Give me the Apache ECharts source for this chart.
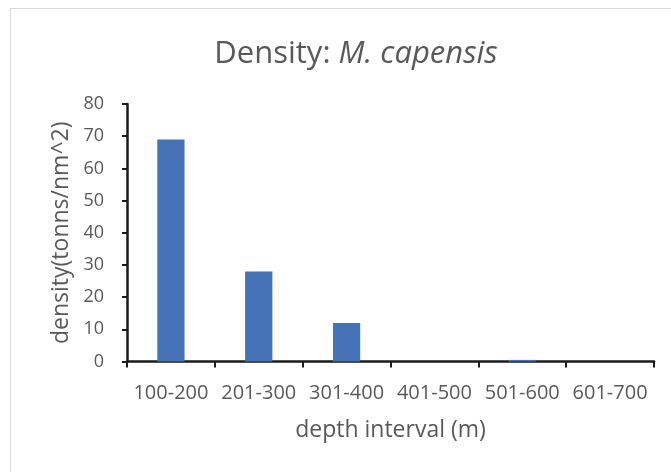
<!DOCTYPE html>
<html>
<head>
<meta charset="utf-8">
<script src="https://cdn.jsdelivr.net/npm/echarts@6/dist/echarts.min.js"></script>
<style>
  html, body { margin: 0; padding: 0; background: #fff; }
  #frame { position: absolute; left: 10px; top: 8px; width: 700px; height: 500px; border: 1px solid #d9d9d9; box-sizing: border-box; }
  #chart { width: 671px; height: 472px; position: absolute; left: 0; top: 0; }
</style>
</head>
<body>
<div id="frame"></div>
<div id="chart"></div>
<script>
// Depth intervals (m) and fish density (tonnes per square nautical mile)
const depthIntervals = ['100-200', '201-300', '301-400', '401-500', '501-600', '601-700'];
const densityValues = [69, 28, 12, 0, 0.5, 0];
const yTicks = [0, 10, 20, 30, 40, 50, 60, 70, 80];

const chart = echarts.init(document.getElementById('chart'), null, { renderer: 'canvas' });
const textGray = '#595959';
const axisBlack = '#1b1b1b';
const fontFam = '"Open Sans", Lato, sans-serif';

chart.setOption({
  animation: false,
  title: {
    text: '{a|Density: }{b|M. capensis}',
    left: 351,
    textAlign: 'center',
    top: 34,
    textStyle: {
      fontWeight: 'normal',
      rich: {
        a: { fontSize: 31, color: textGray, fontFamily: fontFam, fontWeight: 'normal' },
        b: { fontSize: 31, color: textGray, fontFamily: fontFam, fontWeight: 'normal', fontStyle: 'italic' }
      }
    }
  },
  grid: { left: 127, right: 17, top: 104, bottom: 110.5 },
  xAxis: {
    type: 'category',
    data: depthIntervals,
    name: 'depth interval (m)',
    nameLocation: 'middle',
    nameGap: 57,
    nameTextStyle: { fontSize: 23, color: textGray, fontFamily: fontFam },
    axisLine: { lineStyle: { color: axisBlack, width: 2.5 } },
    axisTick: { show: true, alignWithLabel: false, length: 6, lineStyle: { color: axisBlack, width: 2 } },
    axisLabel: { color: textGray, fontSize: 20, fontFamily: fontFam, margin: 22, interval: 0 },
    splitLine: { show: false }
  },
  yAxis: {
    type: 'value',
    min: yTicks[0],
    max: yTicks[yTicks.length - 1],
    interval: yTicks[1] - yTicks[0],
    name: 'density(tonns/nm^2)',
    nameLocation: 'middle',
    nameGap: 54,
    nameTextStyle: { fontSize: 23, color: textGray, fontFamily: fontFam },
    axisLine: { show: true, lineStyle: { color: axisBlack, width: 2.5 } },
    axisTick: { show: true, inside: false, length: 5, lineStyle: { color: axisBlack, width: 2 } },
    axisLabel: { color: textGray, fontSize: 18, fontFamily: fontFam, margin: 23 },
    splitLine: { show: false }
  },
  series: [{
    type: 'bar',
    data: densityValues,
    barWidth: '31%',
    itemStyle: { color: '#4672B8' }
  }]
});
</script>
</body>
</html>
